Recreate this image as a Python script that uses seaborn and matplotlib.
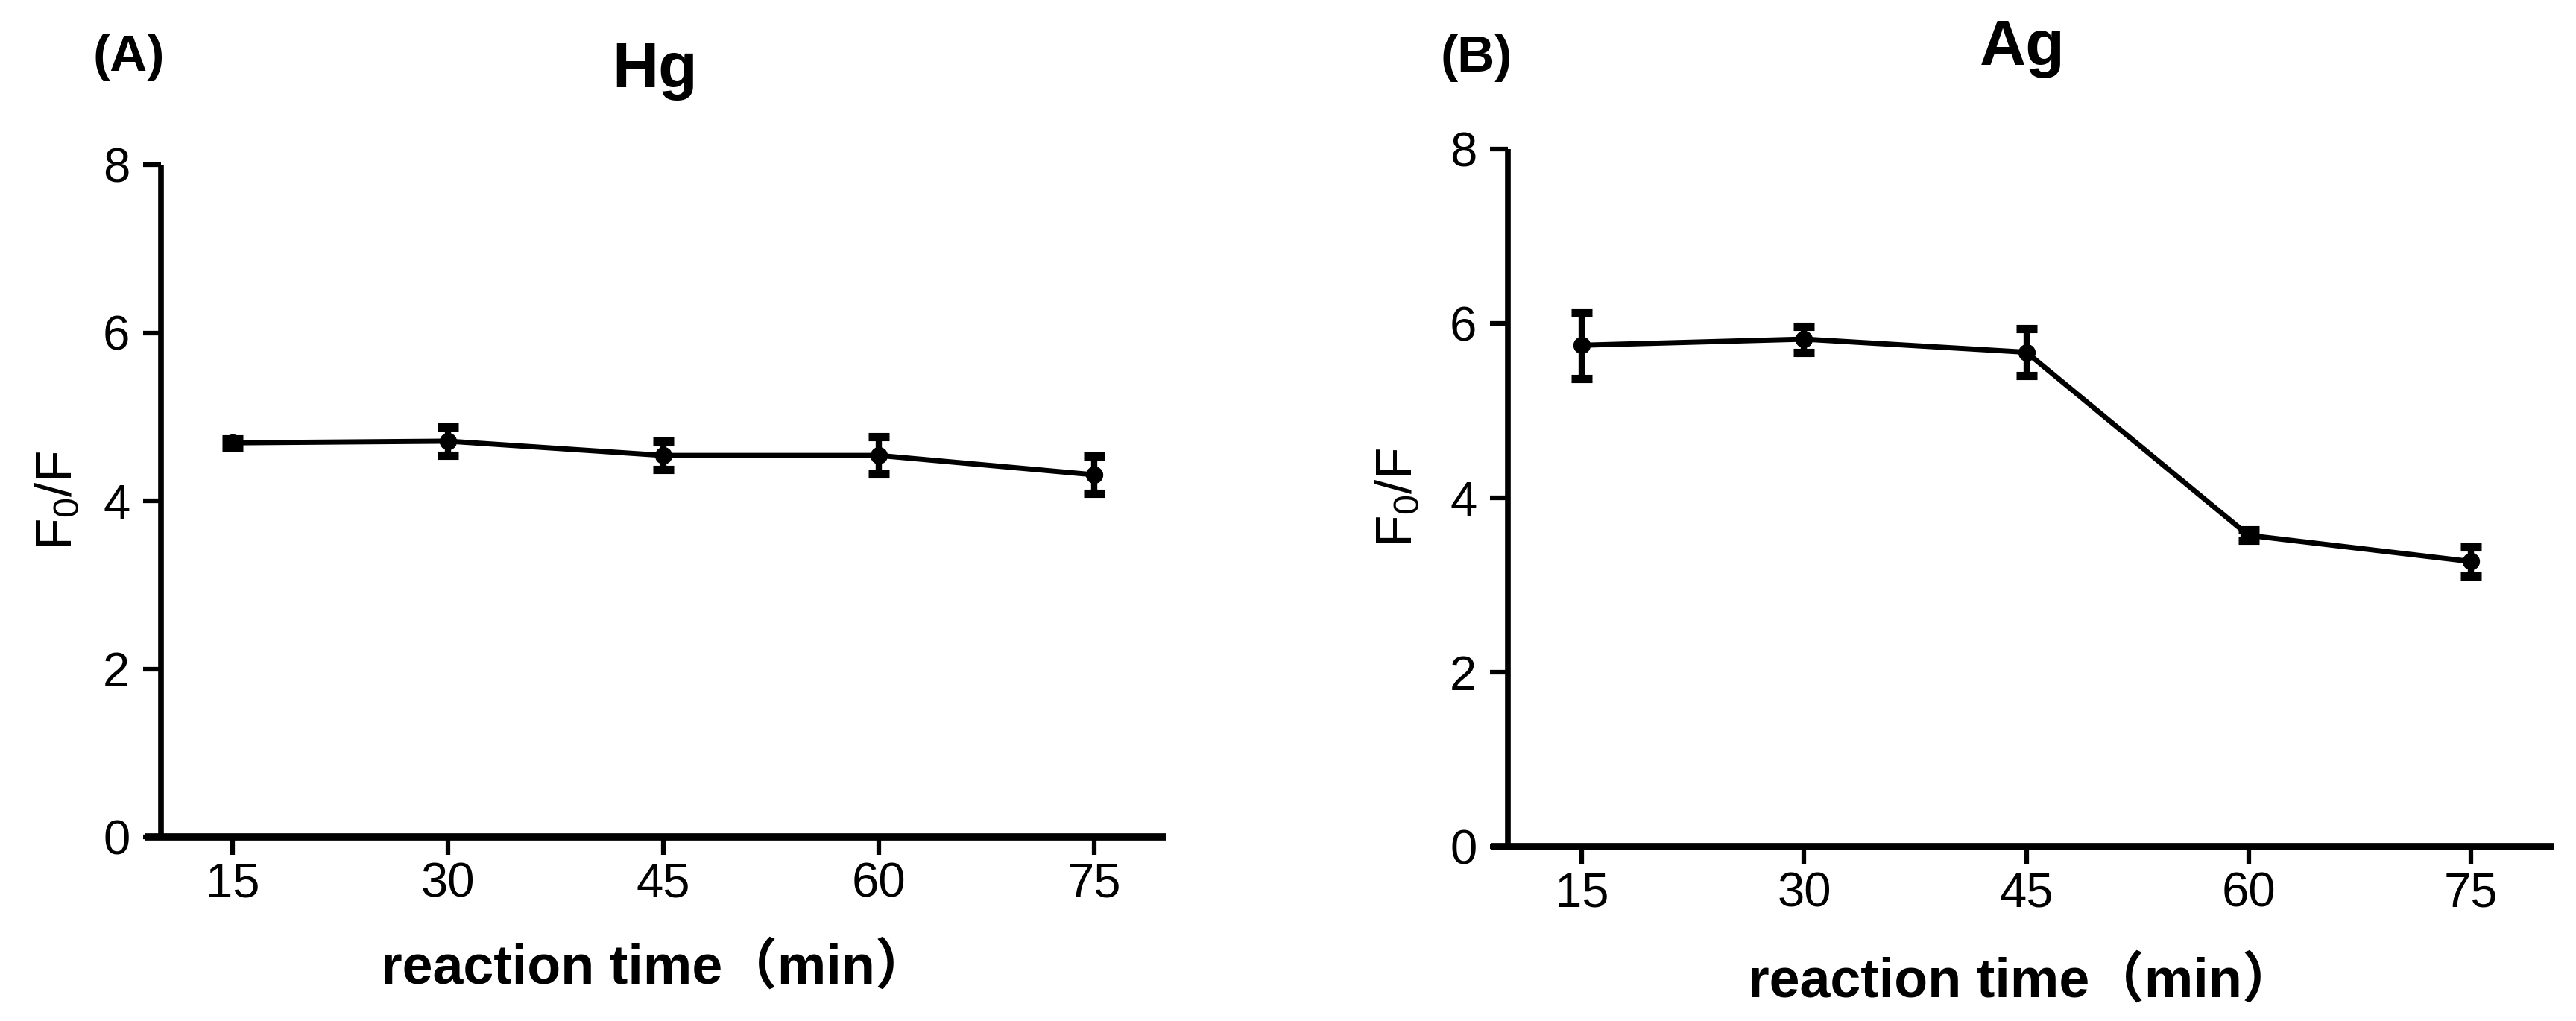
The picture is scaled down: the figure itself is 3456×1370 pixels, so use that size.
import matplotlib
matplotlib.use("Agg")
import matplotlib.pyplot as plt
import matplotlib.transforms as mtransforms
import seaborn as sns
import pandas as pd

# ---- data ----
times = [15, 30, 45, 60, 75]
hg_mean = [4.69, 4.71, 4.54, 4.54, 4.31]
hg_sd = [0.05, 0.17, 0.17, 0.22, 0.22]
ag_mean = [5.75, 5.82, 5.67, 3.57, 3.27]
ag_sd = [0.38, 0.15, 0.27, 0.06, 0.17]
yticks = [0, 2, 4, 6, 8]
panel_titles = ["Hg", "Ag"]
panel_tags = ["(A)", "(B)"]
xlabel_text = "reaction time（min）"
ylabel_text = r"F$_0$/F"

sns.set_style("ticks")
plt.rcParams["font.family"] = ["Liberation Sans", "Noto Sans CJK SC", "DejaVu Sans"]
plt.rcParams["mathtext.default"] = "regular"
plt.rcParams["text.color"] = "black"
plt.rcParams["axes.labelcolor"] = "black"
plt.rcParams["xtick.color"] = "black"
plt.rcParams["ytick.color"] = "black"

W, H = 3456, 1370
fig = plt.figure(figsize=(W / 100, H / 100), dpi=100)
fig.patch.set_facecolor("white")


def px_axes(x0, x1, ytop, ybot):
    return fig.add_axes([x0 / W, 1 - ybot / H, (x1 - x0) / W, (ybot - ytop) / H])


# axes boxes in pixels (left incl. x-axis overhang, right, top(y=8), bottom(y=0))
axA = px_axes(194, 1564, 221, 1123)
axB = px_axes(2001, 3426, 200, 1136)

panels = [
    (axA, hg_mean, hg_sd, (8.86, 80.0), 62, 104, 125, 95, 110, 1320),
    (axB, ag_mean, ag_sd, (8.89, 80.6), 62, 113, 1932, 96, 1908, 1338),
]

for i, (ax, mean, sd, xlim, tsize, tpad, tagx, tagy, ylx, xly) in enumerate(panels):
    df = pd.DataFrame({"time": times, "value": mean})
    ax.errorbar(times, mean, yerr=sd, fmt="none", ecolor="black",
                elinewidth=6, capsize=10, capthick=8, zorder=3)
    sns.lineplot(data=df, x="time", y="value", ax=ax, color="black",
                 linewidth=5, marker="o", markersize=16,
                 markeredgecolor="black", markerfacecolor="black", zorder=4)
    ax.set_xlim(*xlim)
    ax.set_ylim(0, 8)
    ax.set_xticks(times)
    ax.set_yticks(yticks)
    ax.set_xticklabels([str(t) for t in times])
    ax.set_yticklabels([str(t) for t in yticks])
    for s in ["top", "right"]:
        ax.spines[s].set_visible(False)
    ax.spines["left"].set_position(("data", 10))
    ax.spines["left"].set_bounds(0, 8)
    ax.spines["left"].set_linewidth(5.5)
    ax.spines["bottom"].set_linewidth(7)
    for s in ["left", "bottom"]:
        ax.spines[s].set_color("black")
        ax.spines[s].set_capstyle("butt")
    ax.tick_params(axis="both", direction="out", length=17, width=4.5,
                   color="black", labelsize=47, labelcolor="black")
    ax.tick_params(axis="x", pad=7)
    ax.tick_params(axis="y", pad=13)
    ax.set_facecolor("white")

    ax.set_title(panel_titles[i], fontsize=tsize, fontweight="bold",
                 pad=tpad * 0.72, color="black")

    ax.set_ylabel(ylabel_text, fontsize=50, color="black")
    ax.yaxis.set_label_coords(ylx / W, 0.5,
                              transform=mtransforms.blended_transform_factory(fig.transFigure, ax.transAxes))

    ax.set_xlabel(xlabel_text, fontsize=53, fontweight="bold", color="black")
    ax.xaxis.set_label_coords(0.5, 1 - xly / H,
                              transform=mtransforms.blended_transform_factory(ax.transAxes, fig.transFigure))
    ax.xaxis.label.set_verticalalignment("baseline")

    fig.text(tagx / W, 1 - tagy / H, panel_tags[i], fontsize=50, fontweight="bold",
             ha="left", va="baseline", color="black")

fig.savefig("out.png", dpi=100, facecolor="white")
